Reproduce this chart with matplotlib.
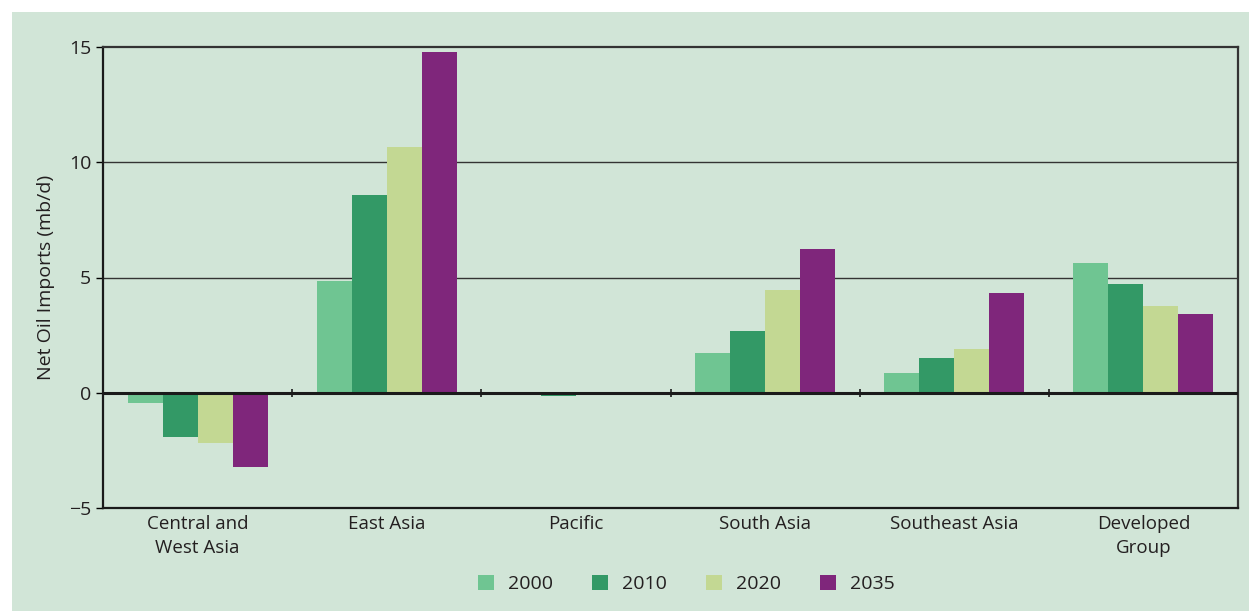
import numpy as np
import matplotlib.pyplot as plt
from matplotlib.patches import Rectangle

regions = ['Central and\nWest Asia', 'East Asia', 'Pacific', 'South Asia',
           'Southeast Asia', 'Developed\nGroup']
years = ['2000', '2010', '2020', '2035']
v2000 = [-0.43, 4.86, -0.10, 1.74, 0.87, 5.64]
v2010 = [-1.90, 8.59, -0.12, 2.69, 1.52, 4.73]
v2020 = [-2.17, 10.67, -0.04, 4.47, 1.91, 3.77]
v2035 = [-3.20, 14.80, 0.00, 6.25, 4.34, 3.43]
colors = ['#6fc592', '#339966', '#c3d893', '#7f267b']

plt.rcParams['font.family'] = ['Open Sans', 'DejaVu Sans']
bg = '#d1e5d7'

fig = plt.figure(figsize=(12.49, 6.11), dpi=100, facecolor='white')
fig.patches.append(Rectangle((12 / 1249, 0), 1, (611 - 12) / 611,
                             transform=fig.transFigure, facecolor=bg,
                             edgecolor='none', zorder=-1))
ax = fig.add_axes([103 / 1249, (611 - 508) / 611, 1135 / 1249, 461 / 611])
ax.set_facecolor(bg)

x = np.arange(len(regions))
w = 0.185
series = [v2000, v2010, v2020, v2035]
for i, (vals, c, yr) in enumerate(zip(series, colors, years)):
    ax.bar(x + (i - 1.5) * w, vals, w, color=c, label=yr, zorder=3)

ax.set_xlim(-0.5, len(regions) - 0.5)
ax.set_ylim(-5, 15)
ax.set_yticks([-5, 0, 5, 10, 15])
ax.set_yticklabels(['\u22125', '0', '5', '10', '15'])
ax.set_xticks(x)
ax.set_xticklabels(regions, fontsize=13.5, color='#231f20', linespacing=1.45)
ax.tick_params(axis='x', length=0, pad=5)
ax.tick_params(axis='y', length=5, width=1, labelsize=14, labelcolor='#231f20')

for yv in [5, 10]:
    ax.axhline(yv, color='#333333', lw=1.0, zorder=1)
ax.axhline(0, color='#1a1a1a', lw=2.2, zorder=4)
ax.vlines(x[:-1] + 0.5, -0.17, 0.17, color='#1a1a1a', lw=1.2, zorder=4)

for s in ['left', 'bottom']:
    ax.spines[s].set_color('#1a1a1a')
    ax.spines[s].set_linewidth(1.6)
for s in ['top', 'right']:
    ax.spines[s].set_color('#333333')
    ax.spines[s].set_linewidth(1.6)

ax.set_ylabel('Net Oil Imports (mb/d)', fontsize=14, color='#231f20', labelpad=10)

ax.legend(loc='center', bbox_to_anchor=(0.514, -0.165), ncol=4, frameon=False,
          fontsize=14, handlelength=0.8, handleheight=0.8, columnspacing=2.05,
          handletextpad=0.7, labelcolor='#231f20')

fig.savefig('out.png', dpi=100, facecolor=fig.get_facecolor())
